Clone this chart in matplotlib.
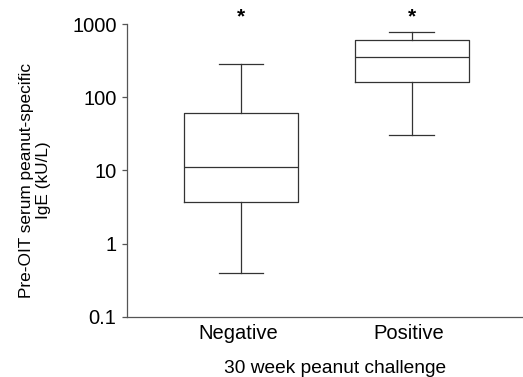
import matplotlib
matplotlib.use("Agg")
import matplotlib.pyplot as plt
from matplotlib.transforms import ScaledTranslation

plt.rcParams.update({
    'font.family': ['Liberation Sans', 'DejaVu Sans'],
    'font.size': 12,
})

# Box statistics (kU/L)
groups = ['Negative', 'Positive']
whisker_low = [0.40, 31]
quartile_1 = [3.7, 163]
medians = [11.3, 354]
quartile_3 = [60.5, 615]
whisker_high = [284, 793]
significant = [True, True]

yticks = [0.1, 1, 10, 100, 1000]
ytick_labels = ['0.1', '1', '10', '100', '1000']

line_color = '#333333'

fig = plt.figure(figsize=(5.23, 3.77), dpi=100)
ax = fig.add_axes([0.2428, 0.160, 0.7572, 0.7755])

stats = []
for i, g in enumerate(groups):
    stats.append({
        'label': g,
        'whislo': whisker_low[i],
        'q1': quartile_1[i],
        'med': medians[i],
        'q3': quartile_3[i],
        'whishi': whisker_high[i],
        'fliers': [],
    })

positions = [1, 2]
lp = dict(color=line_color, linewidth=0.9)
ax.bxp(stats, positions=positions, widths=0.667, capwidths=0.263,
       showfliers=False, boxprops=lp, medianprops=lp, whiskerprops=lp, capprops=lp)

ax.set_yscale('log')
ax.set_ylim(0.1, 1000)
ax.set_xlim(0.333, 2.65)
ax.set_yticks(yticks)
ax.set_yticklabels(ytick_labels)
ax.yaxis.set_minor_locator(matplotlib.ticker.NullLocator())

ax.spines['top'].set_visible(False)
ax.spines['right'].set_visible(False)
for s in ['left', 'bottom']:
    ax.spines[s].set_color('#555555')
    ax.spines[s].set_linewidth(0.9)

ax.tick_params(axis='y', length=3.5, width=0.9, color='#555555', pad=4, labelsize=14.5)
ax.tick_params(axis='x', length=0, pad=5.5, labelsize=14.5)

# category labels sit a little left of the box centres
shift = ScaledTranslation(-3 / 100, 0, fig.dpi_scale_trans)
for lbl in ax.get_xticklabels():
    lbl.set_transform(lbl.get_transform() + shift)

ax.set_ylabel('Pre-OIT serum peanut-specific\nIgE (kU/L)', fontsize=12.4, linespacing=1.2)
ax.yaxis.set_label_coords(-0.192, 0.467)
ax.set_xlabel('30 week peanut challenge', fontsize=13.8)
ax.xaxis.set_label_coords(0.525, -0.149)

for p, sig in zip(positions, significant):
    if sig:
        ax.text(p, 1250, '*', ha='center', va='center', fontsize=15,
                fontweight='bold', clip_on=False)

fig.savefig('out.png', dpi=100)
